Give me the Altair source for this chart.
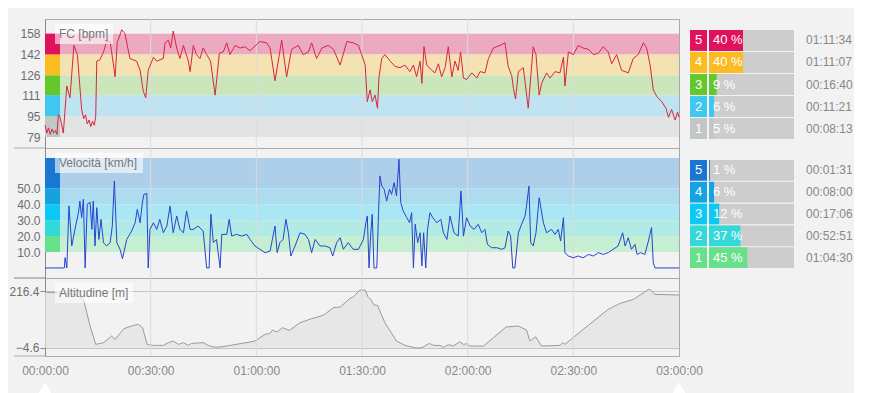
import altair as alt
import pandas as pd

# ---------------- data ----------------
hr_t = [0, 0.5, 1.0, 1.5, 2.0, 2.5, 3.0, 3.4, 3.8, 4.3, 5.2, 6.2, 7.1, 8.2, 9.2, 10.4, 11.0, 11.5, 12.0, 12.5,
        13.0, 13.5, 14.0, 14.4, 14.7, 15.6, 16.6, 17.5, 18.5, 19.9, 20.5, 21.8, 22.7, 24.1, 26.0, 27.0, 27.9, 28.6,
        29.3, 30.8, 31.7, 33.6, 34.1, 35.0, 35.7, 36.4, 37.4, 38.3, 39.3, 40.7, 41.2, 42.1, 43.0, 44.0, 44.9, 45.9,
        47.0, 48.3, 49.5, 50.6, 51.6, 52.5, 54.0, 55.4, 56.8, 58.2, 61.0, 62.9, 63.9, 65.3, 67.2, 68.6, 70.0, 71.9,
        73.3, 74.8, 75.7, 77.1, 78.6, 80.4, 81.9, 83.8, 85.7, 87.5, 89.0, 89.9, 90.9, 91.5, 92.3, 92.9, 93.7, 94.4,
        94.8, 95.6, 96.5, 98.0, 99.4, 100.8, 102.2, 103.6, 104.6, 105.5, 106.5, 107.0, 107.6, 108.4, 109.8, 110.7,
        111.7, 112.6, 113.6, 114.5, 115.5, 116.4, 117.3, 118.0, 118.8, 119.7, 121.2, 122.6, 123.5, 124.9, 125.9,
        127.3, 129.2, 130.6, 131.5, 132.5, 133.0, 133.6, 134.4, 135.8, 137.2, 138.6, 139.4, 140.3, 141.0, 142.4,
        143.4, 144.8, 146.2, 147.2, 147.6, 148.6, 150.0, 151.4, 152.8, 154.3, 155.7, 157.1, 158.5, 159.9, 160.9,
        162.3, 163.7, 164.7, 165.6, 167.0, 168.4, 169.9, 170.8, 171.8, 172.7, 173.7, 175.1, 176.3, 177.0, 177.9,
        178.9, 179.6, 180.0]
hr_v = [88, 82, 86, 81, 85, 82, 84, 81, 96, 94, 82, 118, 109, 149, 142, 100, 93, 96, 89, 92,
        87, 91, 88, 95, 137, 138, 144, 152, 152, 125, 151, 161, 158, 139, 137, 130, 114, 109,
        130, 140, 137, 139, 151, 153, 147, 160, 147, 139, 149, 137, 129, 149, 142, 139, 147, 142,
        137, 111, 143, 144, 151, 142, 149, 147, 148, 145, 152, 151, 147, 122, 153, 125, 146, 149,
        142, 144, 151, 139, 147, 149, 146, 134, 152, 151, 149, 142, 134, 106, 115, 106, 111, 101,
        124, 139, 142, 137, 133, 132, 134, 129, 134, 125, 137, 120, 148, 134, 130, 128,
        135, 125, 132, 148, 125, 137, 130, 144, 124, 123, 128, 124, 129, 128, 139,
        147, 149, 151, 133, 126, 116, 108, 129, 132, 101, 148, 142, 111, 120, 128,
        124, 129, 128, 140, 118, 144, 142, 149, 147, 146, 142, 143, 148, 144, 135,
        142, 130, 129, 128, 139, 142, 151, 147, 134, 115, 110, 106, 101, 94, 100,
        92, 98, 94]

sp_t = [0, 5.5, 5.7, 6.2, 6.8, 7.6, 8.5, 9.5, 9.9, 10.4, 10.9, 11.4, 12.0, 12.8, 13.3, 13.7, 14.2, 14.7, 15.3,
        15.9, 16.6, 17.5, 18.5, 19.1, 19.7, 20.4, 21.3, 22.0, 23.2, 24.6, 25.6, 26.2, 27.0, 27.7, 28.1, 28.9,
        29.3, 29.8, 30.8, 31.7, 32.6, 33.6, 34.6, 35.5, 36.4, 37.4, 38.3, 39.3, 40.2, 41.2, 42.1, 43.5, 44.9,
        45.9, 46.6, 47.1, 47.8, 48.7, 49.7, 50.2, 51.6, 52.3, 53.0, 54.4, 55.8, 57.3, 58.2, 59.6, 61.0, 62.5,
        63.9, 65.3, 65.9, 66.7, 67.6, 68.4, 69.1, 69.8, 71.0, 72.4, 73.8, 74.8, 75.7, 76.7, 78.1, 79.5, 80.9,
        81.7, 82.8, 83.8, 84.7, 86.1, 87.5, 89.0, 90.4, 91.1, 91.5, 92.0, 92.5, 92.9, 93.4, 94.2, 94.7, 95.1,
        95.6, 96.3, 97.0, 97.8, 98.4, 99.1, 99.8, 100.5, 101.0, 101.7, 102.7, 103.5, 104.1, 104.6, 105.1,
        105.8, 106.5, 107.0, 107.5, 108.1, 108.6, 109.3, 110.1, 111.2, 112.4, 113.1, 114.1, 115.0, 116.1,
        117.3, 118.1, 118.8, 119.7, 120.7, 121.8, 123.0, 124.0, 124.9, 125.6, 126.8, 128.3, 129.7, 130.6,
        131.5, 132.2, 132.8, 133.4, 134.4, 135.3, 136.3, 136.7, 137.4, 137.9, 138.6, 139.4, 140.3, 141.5,
        142.4, 143.8, 144.8, 145.7, 146.4, 147.2, 147.6, 148.6, 150.0, 151.4, 152.8, 154.3, 155.7, 157.1,
        158.5, 159.9, 161.3, 162.7, 164.0, 164.7, 165.6, 166.5, 167.5, 168.1, 169.1, 170.3, 171.2, 172.2,
        172.7, 173.2, 174.6, 180.0]
sp_v = [0, 0, 6.5, 0, 39, 13.8, 24.2, 34.7, 42, 31.6, 43.1, 0, 40, 41.2, 24.2, 42, 13.8, 37.9, 17.9,
        30.5, 15.9, 13.8, 15.9, 26.3, 54.6, 15.9, 11.7, 5.8, 17.9, 23.2, 28.4, 36.8, 28.4, 42, 46.2, 46.8,
        0, 24.2, 28.4, 24.2, 30.5, 22.1, 26.3, 38.9, 22.1, 32.6, 24.2, 22.1, 35.8, 24.2, 24.2, 26.3, 23.2,
        0, 0, 33.7, 15.9, 17.9, 0, 21.1, 21.1, 30.5, 20, 21.1, 20, 21.1, 18, 13.8, 11.7, 9.6,
        10.6, 26.3, 9.6, 15.9, 17.9, 30.5, 22.1, 7.5, 13.8, 22.1, 21.1, 17.9, 9.6, 17.9, 13.8, 13.8, 12.7,
        7.5, 15.9, 19, 11.7, 15.9, 11.7, 11.7, 17.9, 28.4, 32.6, 0, 22.1, 33.7, 0, 0, 34.7, 57.8,
        51.5, 49.4, 42, 49.4, 46.2, 53.6, 45.2, 68.2, 41, 35.8, 31.6, 28.4, 34.7, 0, 27.4,
        15.9, 22.1, 1.2, 22.1, 0, 24.2, 34.7, 31.6, 28.4, 30.5, 22.1, 17.9, 32.6, 22.1,
        20, 48.3, 20, 31.6, 26.3, 24.2, 27.4, 22.1, 24.2, 14.8, 12.7, 12.7, 11.7, 12.7,
        23.2, 20, 0, 0, 22.1, 27.4, 32.6, 38.9, 51.4, 15.9, 13.8, 22.1, 44.1, 28.4,
        22.1, 24.2, 21.1, 24.2, 16.9, 31.6, 9.6, 7.5, 6.4, 7.5, 6.4, 8.5, 7.5, 9.6,
        8.5, 9.6, 11.7, 13.8, 22.1, 13.8, 19, 11.7, 14.8, 8.5, 9.6, 8.5, 15.9, 25.3,
        3.3, 0, 0, 0]

alt_t = [0, 8.5, 10.9, 12.8, 14.4, 16.6, 18.9, 19.9, 22.4, 25.1, 26.5, 27.7, 29.0, 30.8, 33.6, 35.0, 36.4,
         37.9, 39.3, 40.7, 41.6, 44.9, 46.4, 47.8, 49.7, 58.2, 59.6, 61.0, 62.5, 63.9, 64.6, 65.8, 67.4, 69.4,
         72.4, 75.7, 79.0, 81.9, 83.8, 86.6, 87.5, 89.4, 90.9, 91.8, 92.5, 93.4, 94.4, 96.5, 99.8, 102.2, 105.5,
         107.0, 109.1, 110.4, 112.2, 113.1, 114.5, 115.9, 117.8, 118.8, 119.7, 120.7, 124.5, 130.9, 134.4, 136.7,
         137.7, 139.3, 141.0, 146.2, 147.0, 147.6, 152.8, 159.9, 163.3, 167.1, 171.3, 171.8, 173.2, 180.0]
alt_v = [212.5, 203, 184, 80, 8.4, 15, 41, 28, 69.5, 82.5, 86.4, 73.4, 8.4, 4.5, 4.5, 15, 21.4,
         8.4, 15, 4.5, 12.2, 15, 4.5, -2, -2, 17.5, 21.4, 34.4, 47.4, 51.3, 64.3, 56.5, 73.4, 63,
         92.9, 108.5, 121.5, 151.4, 154, 187.8, 193, 220, 220, 190.4, 183.9, 161.8, 160.5, 92.9, 21.4, 4.5, -6,
         -4.6, 12, 4.5, 4.5, -3.3, 7.1, 1.9, 18.8, 8.4, 11, 1.9, 1.9, 76, 80, 64.3,
         21.4, 38, 1.9, 4.5, 15, 8.4, 66.9, 144.9, 168.3, 183.9, 222, 222, 203.4, 200.8]

zones = ["5", "4", "3", "2", "1"]
hr_bounds = [158, 142, 126, 111, 95, 79]
hr_pct = [40, 40, 9, 6, 5]
hr_time = ["01:11:34", "01:11:07", "00:16:40", "00:11:21", "00:08:13"]
sp_bounds = [69, 50, 40, 30, 20, 10]
sp_pct = [1, 6, 12, 37, 45]
sp_time = ["00:01:31", "00:08:00", "00:17:06", "00:52:51", "01:04:30"]
hr_ticks = [79, 95, 111, 126, 142, 158]
sp_ticks = [10, 20, 30, 40, 50]
alt_ticks = [-4.6, 216.4]
grid_t = [30, 60, 90, 120, 150]
axis_t = [0, 30, 60, 90, 120, 150, 180]
handle_t = [0, 180]

# ---------------- style ----------------
hr_solid = ["#e0125b", "#fbbc22", "#63c92a", "#3fc8ef", "#c2c6c6"]
hr_band = ["#ebaac2", "#f4e2b2", "#cae6ba", "#bfe3f0", "#e2e3e3"]
sp_solid = ["#1976d2", "#14a2e0", "#0dc7f5", "#33d8d8", "#66e08a"]
sp_band = ["#aecfea", "#aedcef", "#abe6f4", "#b2ebe6", "#c6eed3"]
W, H1, H2, H3 = 634, 129, 130, 78
LBL = "#6e6e6e"

x_scale = alt.Scale(domain=[0, 180], nice=False, zero=False)
hr_scale = alt.Scale(domain=[70.6, 169.2], nice=False, zero=False)
sp_scale = alt.Scale(domain=[-6.3, 75.3], nice=False, zero=False)
al_scale = alt.Scale(domain=[-36.9, 267.1], nice=False, zero=False)


def band_df(bounds, bands, solids):
    return pd.DataFrame({"zone": zones, "hi": bounds[:-1], "lo": bounds[1:],
                         "band": bands, "solid": solids})


def table_df(pct, times, solids):
    return pd.DataFrame({"zone": zones, "pct": pct, "label": [f"{p} %" for p in pct],
                         "time": times, "solid": solids})


def grid_rules(H, with_axis):
    xenc = alt.X("t:Q", scale=x_scale) if with_axis else alt.X("t:Q", scale=x_scale, axis=None)
    return alt.Chart(pd.DataFrame({"t": grid_t})).mark_rule(color="#dcdcdc", strokeWidth=1).encode(
        x=xenc, y=alt.value(0), y2=alt.value(H))


def left_stub(H):
    # separator line continuing left of the y axis, as in the source widget
    return alt.Chart(pd.DataFrame({"a": [0]})).mark_rule(color="#a9a9a9", strokeWidth=1).encode(
        x=alt.value(-31), x2=alt.value(0), y=alt.value(H))


def title_box(text, w):
    d = pd.DataFrame({"a": [0]})
    box = alt.Chart(d).mark_rect(color="white", opacity=0.6).encode(
        x=alt.value(10), x2=alt.value(10 + w), y=alt.value(5), y2=alt.value(25))
    txt = alt.Chart(d).mark_text(text=text, align="left", baseline="middle", fontSize=12,
                                 color="#777777").encode(x=alt.value(14), y=alt.value(15))
    return box + txt


def table(df, y0, y1):
    yb = alt.Y("zone:N", sort=zones, axis=None,
               scale=alt.Scale(range=[y0, y1], paddingInner=0.05, paddingOuter=0))
    xs = alt.Scale(domain=[0, 100], range=[664, 749], nice=False, zero=False)
    base = alt.Chart(df).encode(y=yb)
    numbox = base.mark_rect().encode(x=alt.value(645), x2=alt.value(662),
                                     color=alt.Color("solid:N", scale=None, legend=None))
    bg = base.mark_rect(color="#cdcdcd").encode(x=alt.value(664), x2=alt.value(749))
    fill = base.mark_rect().transform_calculate(zero="0").encode(
        x=alt.X("zero:Q", scale=xs, axis=None), x2="pct:Q",
        color=alt.Color("solid:N", scale=None, legend=None))
    num = base.mark_text(color="white", fontSize=13, align="center", baseline="middle").encode(
        x=alt.value(653.5), text="zone:N")
    pct = base.mark_text(color="white", fontSize=13, align="left", baseline="middle").encode(
        x=alt.value(668), text="label:N")
    tm = base.mark_text(color="#888888", fontSize=12, align="left", baseline="middle").encode(
        x=alt.value(761), text="time:N")
    return alt.layer(bg, fill, numbox, num, pct, tm)


def zone_panel(bounds, bands, solids, yscale, ticks, fmt, t, v, line_color, title, tw, H):
    bd = band_df(bounds, bands, solids)
    yax = alt.Axis(values=ticks, format=fmt, title=None, ticks=False, labelPadding=5, grid=False,
                   labelOverlap=False, domainColor="#8a8a8a", labelColor=LBL, labelFontSize=12)
    bands_l = alt.Chart(bd).mark_rect().encode(
        x=alt.value(0), x2=alt.value(W),
        y=alt.Y("lo:Q", scale=yscale, axis=yax), y2="hi:Q",
        color=alt.Color("band:N", scale=None, legend=None))
    boxes = alt.Chart(bd).mark_rect().encode(
        x=alt.value(0), x2=alt.value(15),
        y=alt.Y("lo:Q", scale=yscale, axis=yax), y2="hi:Q",
        color=alt.Color("solid:N", scale=None, legend=None))
    line = alt.Chart(pd.DataFrame({"t": t, "v": v})).mark_line(
        color=line_color, strokeWidth=1).encode(
        x=alt.X("t:Q", scale=x_scale, axis=None), y=alt.Y("v:Q", scale=yscale, axis=yax))
    return alt.layer(bands_l, grid_rules(H, False), boxes, line, title_box(title, tw), left_stub(H))


plot1 = zone_panel(hr_bounds, hr_band, hr_solid, hr_scale, hr_ticks, "d", hr_t, hr_v,
                   "#d7263f", "FC [bpm]", 58, H1)
row1 = alt.layer(plot1, table(table_df(hr_pct, hr_time, hr_solid), 11, 120)).resolve_scale(
    x="independent", y="independent").properties(width=W, height=H1)

plot2 = zone_panel(sp_bounds, sp_band, sp_solid, sp_scale, sp_ticks, ".1f", sp_t, sp_v,
                   "#2643cf", "Velocità [km/h]", 88, H2)
row2 = alt.layer(plot2, table(table_df(sp_pct, sp_time, sp_solid), 12, 120)).resolve_scale(
    x="independent", y="independent").properties(width=W, height=H2)

label_expr = ("(floor(datum.value/60) < 10 ? '0' : '') + floor(datum.value/60) + ':' + "
              "(datum.value % 60 < 10 ? '0' : '') + (datum.value % 60) + ':00'")
xax = alt.Axis(values=axis_t, labelExpr=label_expr, title=None, ticks=False, grid=False,
               labelFlush=False, labelOverlap=False, labelPadding=9, labelColor="#888888",
               labelFontSize=12, domainColor="#a9a9a9")
area = alt.Chart(pd.DataFrame({"t": alt_t, "v": alt_v})).mark_area(
    color="#e2e2e2", line={"color": "#9a9a9a", "strokeWidth": 1}).encode(
    x=alt.X("t:Q", scale=x_scale, axis=xax),
    y=alt.Y("v:Q", scale=al_scale,
            axis=alt.Axis(values=alt_ticks, format=".1f", title=None, tickSize=5, tickColor="#8a8a8a",
                          labelPadding=1, grid=True, gridColor="#c4c4c4", domainColor="#8a8a8a",
                          labelOverlap=False, labelColor=LBL, labelFontSize=12)),
    y2=alt.datum(-4.6))
handles = alt.Chart(pd.DataFrame({"t": handle_t})).mark_point(
    shape="triangle-up", filled=True, color="white", opacity=1, size=260).encode(
    x=alt.X("t:Q", scale=x_scale), y=alt.value(H3 + 33))
row3 = alt.layer(area, grid_rules(H3, True), title_box("Altitudine [m]", 78), handles,
                 left_stub(H3), left_stub(0)).properties(width=W, height=H3)

chart = alt.vconcat(row1, row2, row3, spacing=0, bounds="flush").properties(
    padding={"left": 0, "top": 10, "right": 0, "bottom": 0}
).configure(background="#f2f2f2", font="Liberation Sans").configure_view(
    stroke="#a9a9a9", strokeWidth=1).configure_axis(labelOverlap=False)

chart.save("out.html", embed_options={"renderer": "svg", "actions": False})
